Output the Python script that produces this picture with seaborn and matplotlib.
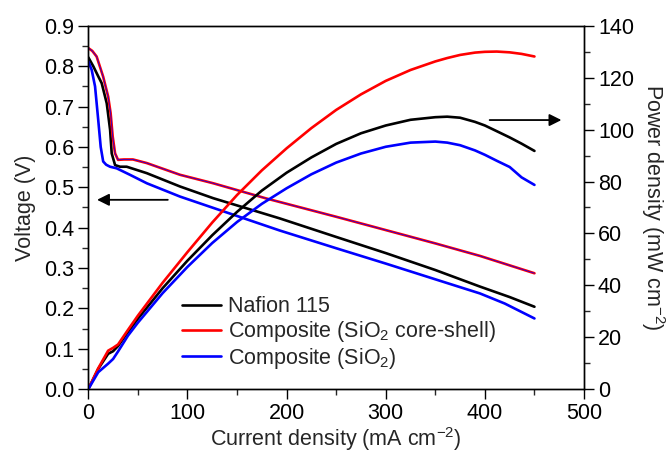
import numpy as np
import pandas as pd
import seaborn as sns
import matplotlib.pyplot as plt

# polarization curves
nafion_i = [0, 5, 10, 13.5, 18.6, 22, 23.6, 27, 32, 38.7, 59, 92.5, 126, 193, 250, 300, 350, 395, 425, 450]
nafion_v = [0.822, 0.80, 0.775, 0.758, 0.708, 0.642, 0.584, 0.555, 0.551, 0.551, 0.535, 0.502, 0.473,
            0.423, 0.377, 0.337, 0.295, 0.254, 0.228, 0.204]

shell_i = [0, 4, 8.4, 15, 20, 22.5, 24.6, 27, 30, 36, 45, 59, 92.5, 126, 180, 250, 300, 350, 395, 450]
shell_v = [0.845, 0.838, 0.824, 0.774, 0.725, 0.684, 0.626, 0.584, 0.568, 0.569, 0.569, 0.560, 0.531,
           0.510, 0.472, 0.427, 0.394, 0.361, 0.330, 0.287]

sio2_i = [0, 3.4, 6.8, 10, 12.5, 15, 18, 21.9, 28.6, 42, 59, 92.5, 193, 250, 300, 350, 395, 420, 450]
sio2_v = [0.812, 0.791, 0.75, 0.667, 0.60, 0.564, 0.556, 0.551, 0.547, 0.531, 0.51, 0.477, 0.393,
          0.349, 0.311, 0.272, 0.237, 0.212, 0.175]

# power density curves
p_i = [0, 10, 20, 25, 30, 40, 50, 75, 100, 125, 150, 175, 200, 225, 250, 275, 300, 325, 350,
       362, 375, 390, 400, 412, 425, 437, 450]
nafion_p = [0, 7.8, 13.6, 14.6, 16.6, 22.0, 27.1, 38.9, 49.5, 59.3, 68.3, 76.5, 83.4, 89.3, 94.5, 98.6,
            101.6, 103.8, 104.8, 105.0, 104.6, 103.0, 101.6, 99.4, 97.0, 94.6, 91.8]
shell_p = [0, 8.0, 14.8, 15.9, 17.2, 22.8, 28.3, 41.0, 52.8, 64.2, 74.8, 84.3, 92.8, 100.6, 107.6, 113.6,
           118.8, 123.0, 126.3, 127.6, 128.8, 129.7, 130.0, 130.1, 129.8, 129.2, 128.2]
sio2_p = [0, 6.5, 9.8, 11.6, 14.5, 20.6, 25.6, 37.0, 47.1, 56.3, 64.4, 71.4, 77.4, 82.8, 87.3, 90.8,
          93.4, 95.0, 95.4, 95.0, 94.0, 92.0, 90.3, 88.0, 85.6, 81.6, 78.7]

labels = ["Nafion 115", "Composite (SiO$_2$ core-shell)", "Composite (SiO$_2$)"]
colors = ["black", "#ff0000", "#0000ff"]

sns.set_style("ticks")
plt.rcParams["font.family"] = ["Liberation Sans", "DejaVu Sans"]
plt.rcParams["mathtext.fontset"] = "custom"
plt.rcParams["mathtext.rm"] = "Liberation Sans"
plt.rcParams["mathtext.it"] = "Liberation Sans:italic"
fs = 15.5

fig, ax = plt.subplots(figsize=(6.69, 4.54), dpi=100)
fig.subplots_adjust(left=0.132, right=0.873, bottom=0.143, top=0.943)
ax2 = ax.twinx()

lw = 1.9
volt = [(nafion_i, nafion_v), (shell_i, shell_v), (sio2_i, sio2_v)]
power = [nafion_p, shell_p, sio2_p]
for (xi, yi), lab, c in zip(volt, labels, colors):
    sns.lineplot(x=xi, y=yi, ax=ax, color=c, lw=lw, sort=False, estimator=None, label=lab)
# thin blue trace running inside the red polarization curve
sns.lineplot(x=shell_i, y=shell_v, ax=ax, color="#0000ff", lw=0.5, sort=False, estimator=None)
for pp, c in zip(power, colors):
    sns.lineplot(x=p_i, y=pp, ax=ax2, color=c, lw=lw, sort=False, estimator=None)

ax.set_xlim(0, 500)
ax.set_ylim(0, 0.9)
ax2.set_ylim(0, 140)
ax.set_xticks(np.arange(0, 501, 100))
ax.set_xticks(np.arange(50, 500, 100), minor=True)
ax.set_yticks(np.arange(0, 0.91, 0.1))
ax.set_yticks(np.arange(0.05, 0.9, 0.1), minor=True)
ax.yaxis.set_major_formatter(plt.FormatStrFormatter("%.1f"))
ax2.set_yticks(np.arange(0, 141, 20))
ax2.set_yticks(np.arange(10, 140, 20), minor=True)

for a in (ax, ax2):
    a.tick_params(which="major", length=7, width=1, direction="out", labelsize=fs, colors="black", pad=3)
    a.tick_params(which="minor", length=4, width=1, direction="out")
    for s in a.spines.values():
        s.set_visible(True)
        s.set_linewidth(1)
        s.set_color("black")

ax.set_xlabel("Current density (mA cm$^{-2}$)", fontsize=fs, labelpad=1)
ax.set_ylabel("Voltage (V)", fontsize=fs, labelpad=6)
ax2.set_ylabel("Power density (mW cm$^{-2}$)", fontsize=fs, rotation=270, labelpad=24)

# arrows pointing to the relevant axis
ax.annotate("", xy=(6, 0.469), xytext=(83, 0.469),
            arrowprops=dict(arrowstyle="-|>", color="black", lw=1.3, mutation_scale=18))
ax2.annotate("", xy=(480, 103.7), xytext=(402, 103.7),
             arrowprops=dict(arrowstyle="-|>", color="black", lw=1.3, mutation_scale=18))

ax.legend(loc="upper left", bbox_to_anchor=(0.188, 0.255), frameon=False, fontsize=fs,
          handlelength=1.85, handletextpad=0.3, labelspacing=0.08, borderpad=0, borderaxespad=0)

plt.savefig("out.png", dpi=100)
